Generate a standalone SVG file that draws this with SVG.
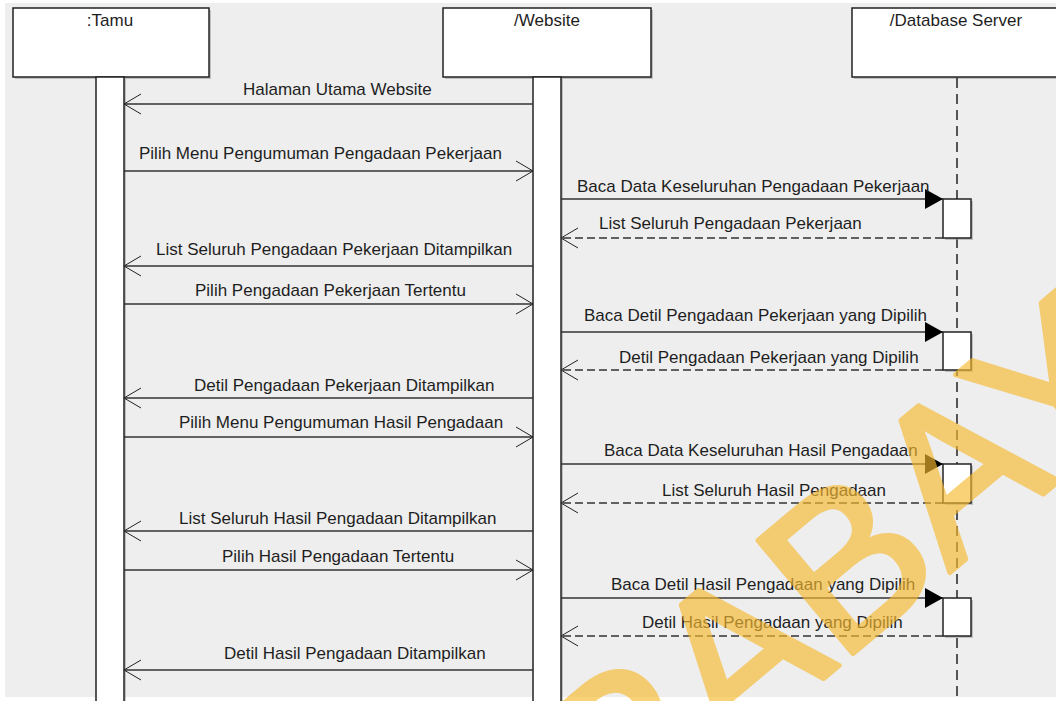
<svg xmlns="http://www.w3.org/2000/svg" width="1056" height="701" viewBox="0 0 1056 701">
<style>
.t{font-family:"Liberation Sans",Arial,sans-serif;font-size:17px;fill:#1e1e1e}
.box{fill:#fff;stroke:#222;stroke-width:1.5}
.sh{fill:#9a9a9a;opacity:.55}
.msg{stroke:#333;stroke-width:1.5;fill:none}
.ret{stroke:#333;stroke-width:1.5;fill:none;stroke-dasharray:8 4}
.life{stroke:#222;stroke-width:1.5;fill:none;stroke-dasharray:10 6}
.wm{font-family:"Liberation Sans",Arial,sans-serif;font-size:215px;fill:#f7b92f;stroke:#f7b92f;stroke-width:5;stroke-linejoin:round;opacity:.65}
</style>
<defs>
<marker id="open" viewBox="-19 -12 21 24" markerWidth="21" markerHeight="24" refX="0" refY="0" orient="auto" markerUnits="userSpaceOnUse">
<path d="M-17,-10 L0,0 L-17,10" fill="none" stroke="#222" stroke-width="1"/>
</marker>
<marker id="fill" viewBox="-19 -12 21 24" markerWidth="21" markerHeight="24" refX="0" refY="0" orient="auto" markerUnits="userSpaceOnUse">
<path d="M-18,-10 L0,0 L-18,10 Z" fill="#000"/>
</marker>
</defs>
<rect x="0" y="0" width="1056" height="701" fill="#fff"/>
<rect x="5" y="3" width="1051" height="694" fill="#eeeeee"/>

<g id="tamu">
<rect class="sh" x="15" y="10" width="196" height="69"/>
<rect class="box" x="13" y="8" width="196" height="69"/>
<text class="t" x="110" y="26" text-anchor="middle">:Tamu</text>
<rect class="sh" x="98" y="79" width="28" height="630"/>
<rect class="box" x="96" y="77" width="28" height="630"/>
</g>
<g id="website">
<rect class="sh" x="445" y="10" width="208" height="69"/>
<rect class="box" x="443" y="8" width="208" height="69"/>
<text class="t" x="547" y="26" text-anchor="middle">/Website</text>
<rect class="sh" x="535" y="79" width="28" height="630"/>
<rect class="box" x="533" y="77" width="28" height="630"/>
</g>
<g id="database">
<rect class="sh" x="854" y="10" width="208" height="69"/>
<rect class="box" x="852" y="8" width="208" height="69"/>
<text class="t" x="956" y="26" text-anchor="middle">/Database Server</text>
<line class="life" x1="957" y1="78" x2="957" y2="701"/>
<rect class="sh" x="945" y="201" width="28" height="39"/>
<rect class="box" x="943" y="199" width="28" height="39"/>
<rect class="sh" x="945" y="334" width="28" height="38"/>
<rect class="box" x="943" y="332" width="28" height="38"/>
<rect class="sh" x="945" y="466" width="28" height="39"/>
<rect class="box" x="943" y="464" width="28" height="39"/>
<rect class="sh" x="945" y="600" width="28" height="38"/>
<rect class="box" x="943" y="598" width="28" height="38"/>
</g>

<g id="connectors">
<line class="msg" x1="533" y1="104" x2="124" y2="104" marker-end="url(#open)"/>
<line class="msg" x1="124" y1="171" x2="533" y2="171" marker-end="url(#open)"/>
<line class="msg" x1="561" y1="199" x2="943" y2="199" marker-end="url(#fill)"/>
<line class="ret" x1="943" y1="238" x2="561" y2="238" marker-end="url(#open)"/>
<line class="msg" x1="533" y1="266" x2="124" y2="266" marker-end="url(#open)"/>
<line class="msg" x1="124" y1="304" x2="533" y2="304" marker-end="url(#open)"/>
<line class="msg" x1="561" y1="332" x2="943" y2="332" marker-end="url(#fill)"/>
<line class="ret" x1="943" y1="370" x2="561" y2="370" marker-end="url(#open)"/>
<line class="msg" x1="533" y1="398" x2="124" y2="398" marker-end="url(#open)"/>
<line class="msg" x1="124" y1="437" x2="533" y2="437" marker-end="url(#open)"/>
<line class="msg" x1="561" y1="464" x2="943" y2="464" marker-end="url(#fill)"/>
<line class="ret" x1="943" y1="503" x2="561" y2="503" marker-end="url(#open)"/>
<line class="msg" x1="533" y1="531" x2="124" y2="531" marker-end="url(#open)"/>
<line class="msg" x1="124" y1="570" x2="533" y2="570" marker-end="url(#open)"/>
<line class="msg" x1="561" y1="598" x2="943" y2="598" marker-end="url(#fill)"/>
<line class="ret" x1="943" y1="636" x2="561" y2="636" marker-end="url(#open)"/>
<line class="msg" x1="533" y1="670" x2="124" y2="670" marker-end="url(#open)"/>

<text class="t" x="243" y="95">Halaman Utama Website</text>
<text class="t" x="139" y="159">Pilih Menu Pengumuman Pengadaan Pekerjaan</text>
<text class="t" x="577" y="192">Baca Data Keseluruhan Pengadaan Pekerjaan</text>
<text class="t" x="599" y="229">List Seluruh Pengadaan Pekerjaan</text>
<text class="t" x="156" y="255">List Seluruh Pengadaan Pekerjaan Ditampilkan</text>
<text class="t" x="195" y="296">Pilih Pengadaan Pekerjaan Tertentu</text>
<text class="t" x="584" y="321">Baca Detil Pengadaan Pekerjaan yang Dipilih</text>
<text class="t" x="619" y="363">Detil Pengadaan Pekerjaan yang Dipilih</text>
<text class="t" x="194" y="391">Detil Pengadaan Pekerjaan Ditampilkan</text>
<text class="t" x="179" y="428">Pilih Menu Pengumuman Hasil Pengadaan</text>
<text class="t" x="604" y="456">Baca Data Keseluruhan Hasil Pengadaan</text>
<text class="t" x="662" y="496">List Seluruh Hasil Pengadaan</text>
<text class="t" x="179" y="524">List Seluruh Hasil Pengadaan Ditampilkan</text>
<text class="t" x="222" y="562">Pilih Hasil Pengadaan Tertentu</text>
<text class="t" x="611" y="590">Baca Detil Hasil Pengadaan yang Dipilih</text>
<text class="t" x="642" y="628">Detil Hasil Pengadaan yang Dipilih</text>
<text class="t" x="224" y="659">Detil Hasil Pengadaan Ditampilkan</text>
</g>

<text class="wm" transform="translate(382,1049) rotate(-40)" x="0" y="0">SURABAYA</text>
</svg>
